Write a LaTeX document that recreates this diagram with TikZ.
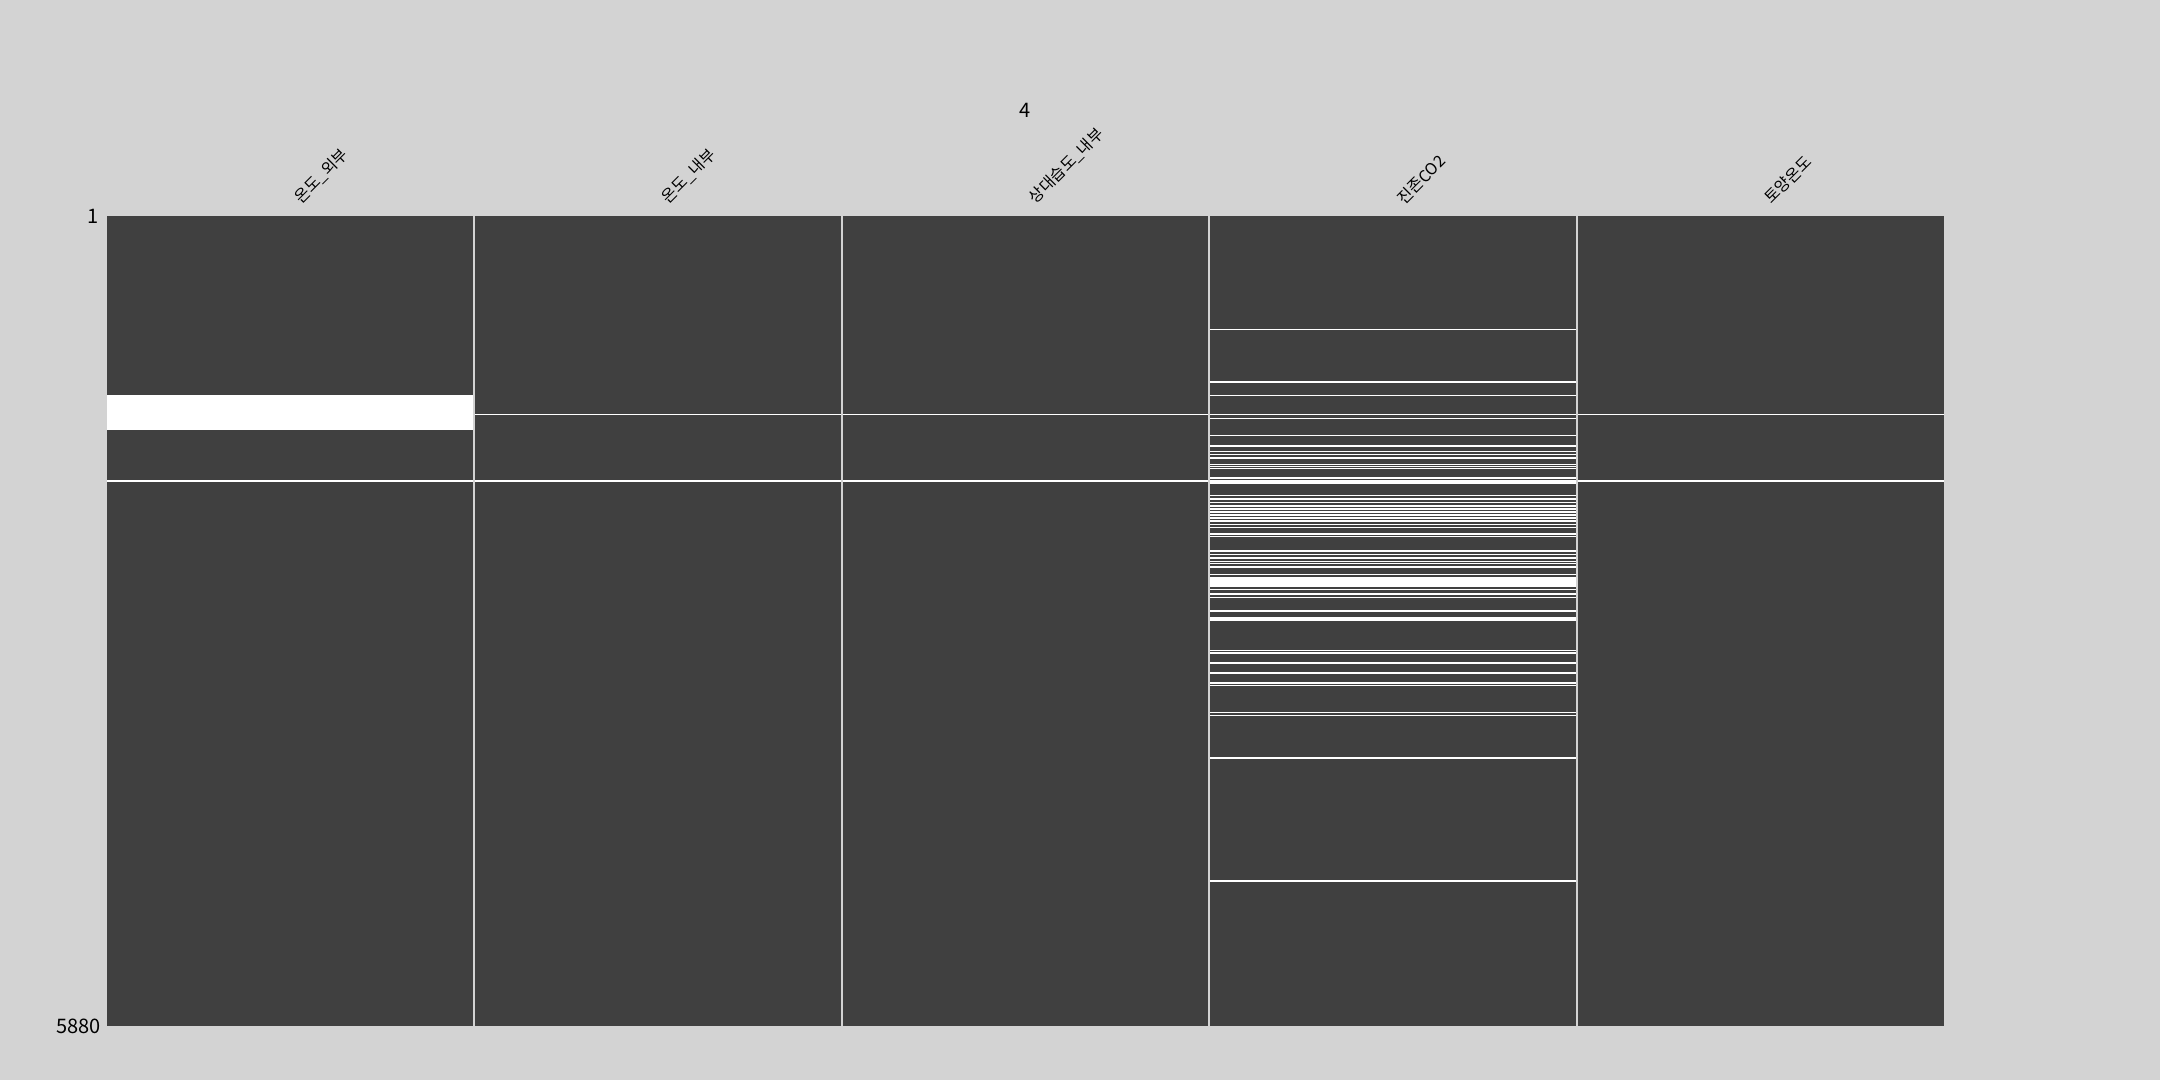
\documentclass[tikz,border=0pt]{standalone}
\usepackage{fontspec}
\newfontfamily\kr{Noto Sans CJK KR}
\definecolor{bggray}{HTML}{D3D3D3}
\definecolor{matgray}{HTML}{404040}

\begin{document}
\begin{tikzpicture}[x=1pt,y=-1pt,
    cell/.style={fill=matgray},
    gap/.style={draw=bggray,line width=2pt},
    miss/.style={draw=white,line width=1.2pt},
    lab/.style={rotate=45,anchor=south west,inner sep=0pt,font=\kr\fontsize{16}{16}\selectfont},
    num/.style={inner sep=0pt,font=\kr\fontsize{20}{20}\selectfont}]
                  \fill[bggray] (0,0) rectangle (2160,1080);
                  \useasboundingbox (0,0) rectangle (2160,1080);
                  % columns
                  \foreach \i in {0,...,4}
                      \fill[cell] (107+\i*367.4,216) rectangle (107+\i*367.4+367.4,1026);
                  % rows missing everywhere
                  \draw[miss,line width=1.5pt] (474.4,414.7)--(1944,414.7);
                  \draw[miss,line width=1.5pt] (107,481)--(1944,481);
                  % 온도_외부
                  \fill[white] (107,395) rectangle (474.4,430);
                  % 진존CO2
                  \foreach \y in {329.5,382,395.5,418.7,435.3,446,451.3,454.7,458,464.7,466.7,468.7,478,483,
                                  495.3,499,502.7,506,509,512,515,518,521,524.7,527.3,534,536.7,
                                  551,554.7,558,561.3,563.3,567,574.5,586,589.5,594,597.5,
                                  611,618,620,650.5,653,663,673,683,685.5,712.5,715.5,758,881}
                      \draw[miss] (1209.2,\y)--(1576.6,\y);
                  \fill[white] (1209.2,577) rectangle (1576.6,585);
                  % column gaps
                  \foreach \i in {1,...,4}
                      \draw[gap] (107+\i*367.4,216)--(107+\i*367.4,1026);
                  % labels
                  \foreach \name [count=\i from 0] in {온도\_외부,온도\_내부,상대습도\_내부,진존CO2,토양온도}
                      \node[lab] (c\i) at (107+183.7+\i*367.4+12,206) {\name};
                  \node[num,anchor=east] (first) at (99,216) {1};
                  \node[num,anchor=east] (last) at (101,1026) {5880};
                  \node[num] (title) at (1025.5,110.5) {4};
              \end{tikzpicture}
\end{document}
